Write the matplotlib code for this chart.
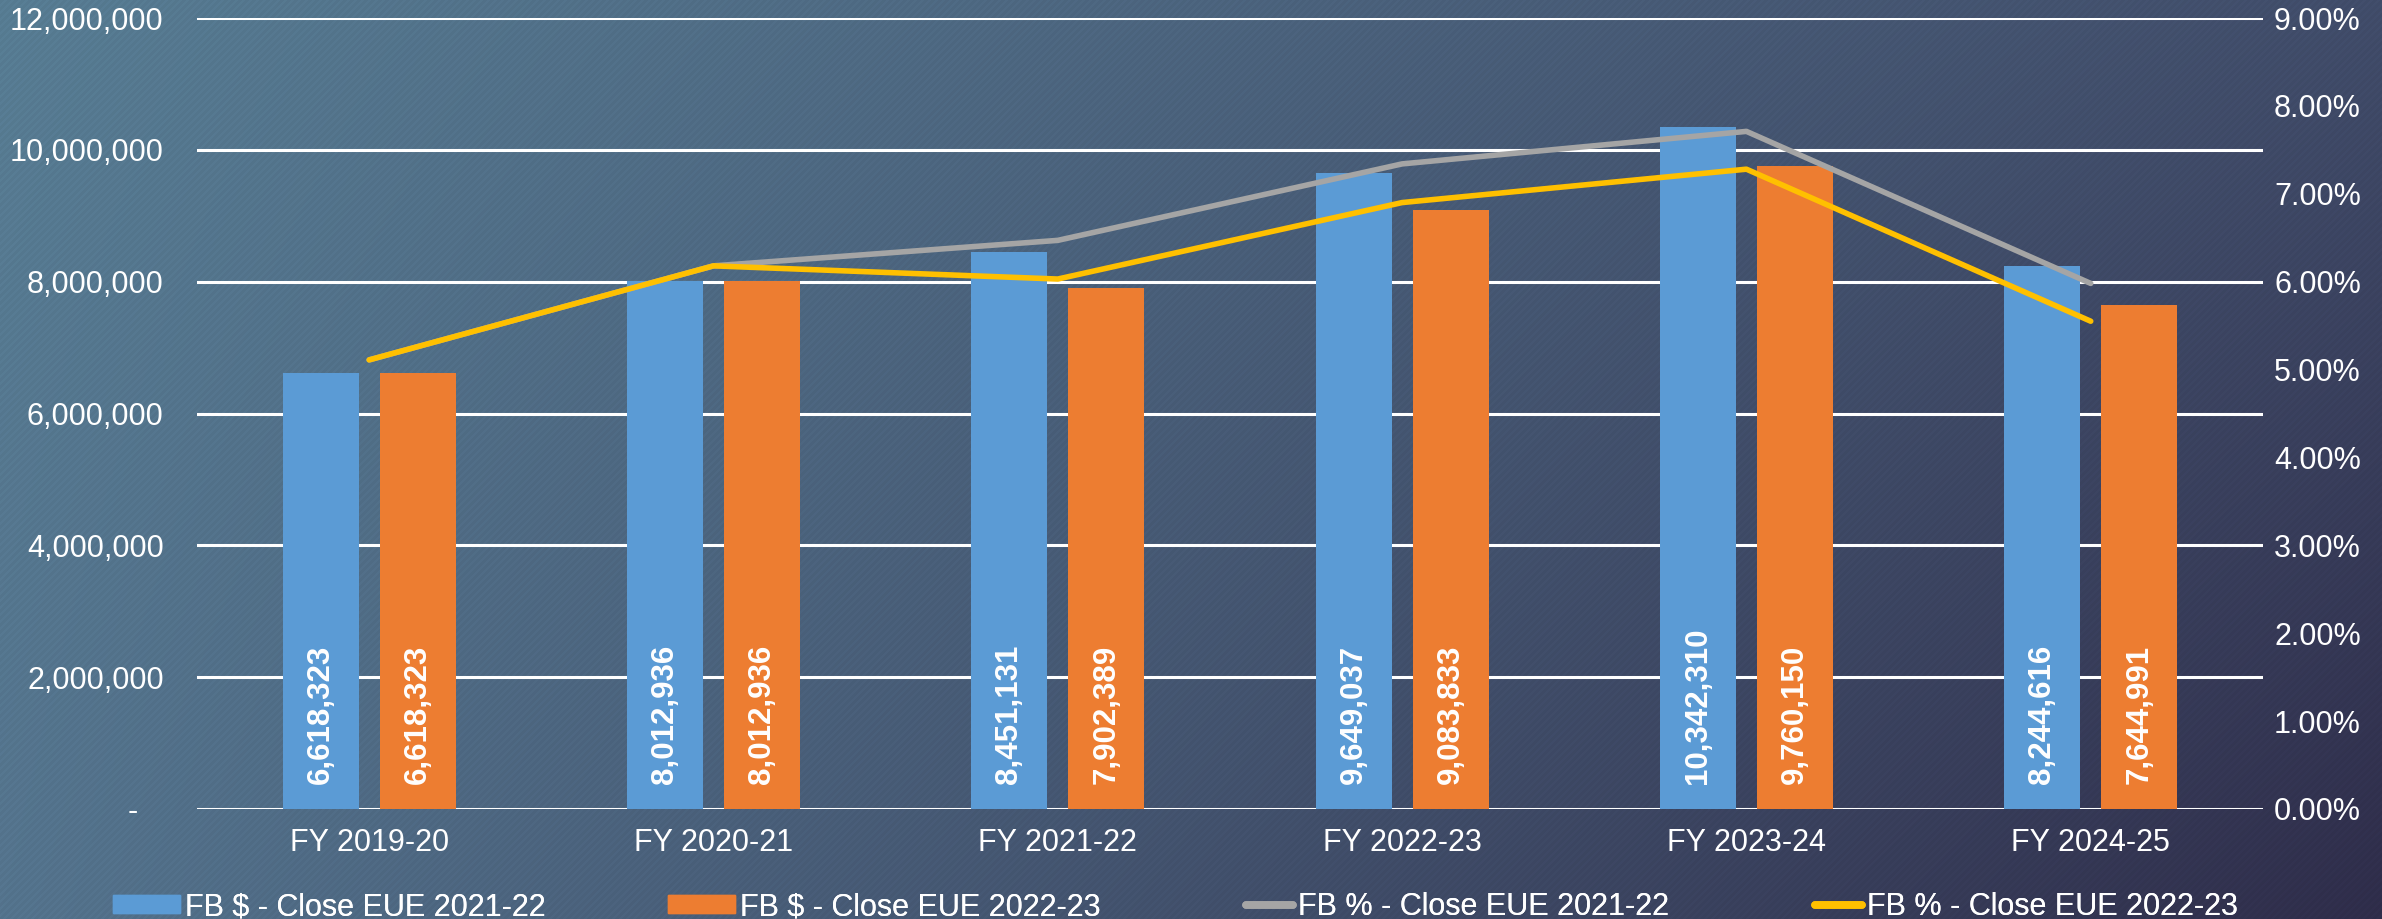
import numpy as np
import matplotlib
matplotlib.use("Agg")
import matplotlib.pyplot as plt
from matplotlib.ticker import FuncFormatter, MultipleLocator
from matplotlib.lines import Line2D
from matplotlib.patches import Patch

# ---------------- data ----------------
categories = ["FY 2019-20", "FY 2020-21", "FY 2021-22", "FY 2022-23", "FY 2023-24", "FY 2024-25"]
fb_usd_2122 = [6618323, 8012936, 8451131, 9649037, 10342310, 8244616]
fb_usd_2223 = [6618323, 8012936, 7902389, 9083833, 9760150, 7644991]
fb_pct_2122 = [5.11, 6.18, 6.47, 7.34, 7.71, 5.98]
fb_pct_2223 = [5.11, 6.18, 6.03, 6.90, 7.28, 5.55]
series_labels = ["FB $ - Close EUE 2021-22", "FB $ - Close EUE 2022-23",
                 "FB % - Close EUE 2021-22", "FB % - Close EUE 2022-23"]

# ---------------- style ----------------
plt.rcParams['font.family'] = ['Liberation Sans', 'DejaVu Sans']
C_BLUE, C_ORANGE, C_GREY, C_YELLOW = "#5B9BD5", "#ED7D31", "#A5A5A5", "#FFC000"
FS = 22

W, H = 2382, 919
fig = plt.figure(figsize=(W / 100, H / 100), dpi=100)

# background gradient with subtle diagonal stripes
bg = fig.add_axes([0, 0, 1, 1], zorder=-10)
bg.axis('off')
yy, xx = np.mgrid[0:H, 0:W]
u = (xx / (W - 1))[..., None]
v = (yy / (H - 1))[..., None]
TL = np.array([89, 127, 150]); TR = np.array([66, 78, 108])
BL = np.array([86, 118, 144]); BR = np.array([48, 46, 76])
img = (1 - u) * (1 - v) * TL + u * (1 - v) * TR + (1 - u) * v * BL + u * v * BR
stripe = (((xx + yy) % 7) < 3.5)[..., None]
img = np.where(stripe, img * 0.965, img)
bg.imshow(np.clip(img / 255, 0, 1), aspect='auto', extent=[0, 1, 0, 1], interpolation='nearest')
bg.set_xlim(0, 1); bg.set_ylim(0, 1)

ax = fig.add_axes([0.0827, 0.1197, 0.950 - 0.0827, 0.9804 - 0.1197])
ax.patch.set_alpha(0)

x = np.arange(len(categories))
bw = 0.221
off = 0.141
b1 = ax.bar(x - off, fb_usd_2122, bw, color=C_BLUE, zorder=3)
b2 = ax.bar(x + off, fb_usd_2223, bw, color=C_ORANGE, zorder=3)

for bars, vals in ((b1, fb_usd_2122), (b2, fb_usd_2223)):
    for rect, val in zip(bars, vals):
        ax.annotate(f"{val:,}", xy=(rect.get_x() + rect.get_width() / 2, 0),
                    xytext=(0, 18), textcoords='offset points', rotation=90,
                    ha='center', va='bottom', color='white', fontsize=FS + 0.5,
                    fontweight='bold', zorder=5)

ax.set_xlim(-0.5, len(categories) - 0.5)
ax.set_ylim(0, 12000000)
ax.yaxis.set_major_locator(MultipleLocator(2000000))
ax.yaxis.set_major_formatter(FuncFormatter(lambda v, p: "-   " if v == 0 else f"{int(v):,}"))
ax.grid(axis='y', color='white', linewidth=2.2, zorder=1)
ax.set_axisbelow(True)
for s in ax.spines.values():
    s.set_visible(False)
ax.set_xticks(x)
ax.set_xticklabels(categories)
ax.tick_params(axis='x', length=0, pad=14, labelsize=FS, labelcolor='white')
ax.tick_params(axis='y', length=0, pad=24, labelsize=FS, labelcolor='white')

ax2 = ax.twinx()
ax2.patch.set_alpha(0)
ax2.plot(x, np.array(fb_pct_2122) / 100, color=C_GREY, linewidth=4, solid_capstyle='round', solid_joinstyle='round', zorder=4)
ax2.plot(x, np.array(fb_pct_2223) / 100, color=C_YELLOW, linewidth=4, solid_capstyle='round', solid_joinstyle='round', zorder=4)
ax2.set_ylim(0, 0.09)
ax2.yaxis.set_major_locator(MultipleLocator(0.01))
ax2.yaxis.set_major_formatter(FuncFormatter(lambda v, p: f"{v * 100:.2f}%"))
ax2.tick_params(axis='y', length=0, pad=8, labelsize=FS, labelcolor='white')
for s in ax2.spines.values():
    s.set_visible(False)

# legend: one entry per legend, placed to match the reference spacing
handles = [Patch(color=C_BLUE), Patch(color=C_ORANGE),
           Line2D([], [], color=C_GREY, linewidth=5.5, solid_capstyle='round'),
           Line2D([], [], color=C_YELLOW, linewidth=5.5, solid_capstyle='round')]
leg_x = [113, 668, 1246, 1815]
hlen = [2.2, 2.2, 1.55, 1.55]
for h, lab, lx, hl in zip(handles, series_labels, leg_x, hlen):
    lg = fig.legend([h], [lab], loc='center left',
                    bbox_to_anchor=(lx / W, 1 - 907 / H), frameon=False,
                    fontsize=FS, labelcolor='white', handlelength=hl, handleheight=0.55,
                    handletextpad=0.15, borderpad=0, borderaxespad=0)
    fig.add_artist(lg)

fig.savefig("out.png", dpi=100)
